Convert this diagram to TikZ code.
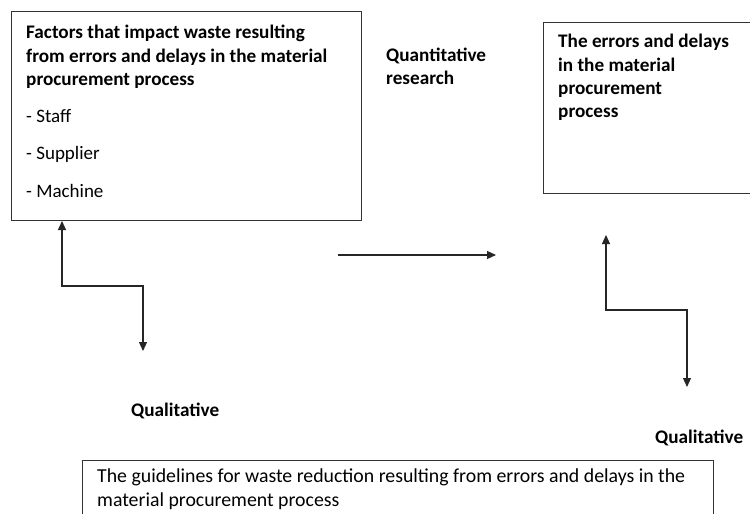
\documentclass[tikz,border=0pt]{standalone}
\usepackage{fontspec}
\setmainfont{Carlito}
\usetikzlibrary{arrows.meta}
\begin{document}
\begin{tikzpicture}[x=1pt,y=-1pt,
  boxst/.style={draw=black!80, line width=1pt, anchor=north west, inner sep=0pt},
  bt/.style={anchor=base west, inner sep=0pt, font=\bfseries\fontsize{19.2}{22}\selectfont},
  lt/.style={anchor=base west, inner sep=0pt, font=\fontsize{19}{22}\selectfont},
  rt/.style={anchor=base west, inner sep=0pt, font=\fontsize{19.8}{23}\selectfont},
  conn/.style={line width=1.1pt, draw=black!85},
  tip/.style={-{Triangle[length=9pt,width=8pt]}},
  tips/.style={{Triangle[length=9pt,width=8pt]}-{Triangle[length=9pt,width=8pt]}}]
\useasboundingbox (0,0) rectangle (750,514);
\fill[white] (0,0) rectangle (750,514);
\clip (0,0) rectangle (750,514);
% boxes
\node[boxst, minimum width=350pt, minimum height=209pt] (box1) at (11,11) {};
\node[boxst, minimum width=215pt, minimum height=171pt] (box2) at (543,22) {};
\node[boxst, minimum width=631pt, minimum height=80pt] (box3) at (82,460) {};
% box1 text
\node[bt] (t11) at (26,38) {Factors that impact waste resulting};
\node[bt] (t12) at (26,62) {from errors and delays in the material};
\node[bt] (t13) at (26,85) {procurement process};
\node[lt] (t14) at (26,122) {- Staff};
\node[lt] (t15) at (26,159) {- Supplier};
\node[lt] (t16) at (26,197) {- Machine};
% box2 text
\node[bt] (t21) at (558,47) {The errors and delays};
\node[bt] (t22) at (558,71) {in the material};
\node[bt] (t23) at (558,94) {procurement};
\node[bt] (t24) at (558,117) {process};
% labels
\node[bt] (quan1) at (386,61) {Quantitative};
\node[bt] (quan2) at (386,84) {research};
\node[bt] (qual1) at (131,416) {Qualitative};
\node[bt] (qual2) at (655,443) {Qualitative};
% box3 text
\node[rt] (t31) at (97,482) {The guidelines for waste reduction resulting from errors and delays in the};
\node[rt] (t32) at (97,506) {material procurement process};
% connectors
\coordinate (la) at (62,221);
\coordinate (lb) at (62,286);
\coordinate (lc) at (143,286);
\coordinate (ld) at (143,351);
\draw[conn, tips] (la) -- (lb) -- (lc) -- (ld);
\coordinate (ha) at (338,255);
\coordinate (hb) at (496,255);
\draw[conn, tip] (ha) -- (hb);
\coordinate (ra) at (606,235);
\coordinate (rb) at (606,310);
\coordinate (rc) at (687,310);
\coordinate (rd) at (687,387);
\draw[conn, tips] (ra) -- (rb) -- (rc) -- (rd);
\end{tikzpicture}
\end{document}
